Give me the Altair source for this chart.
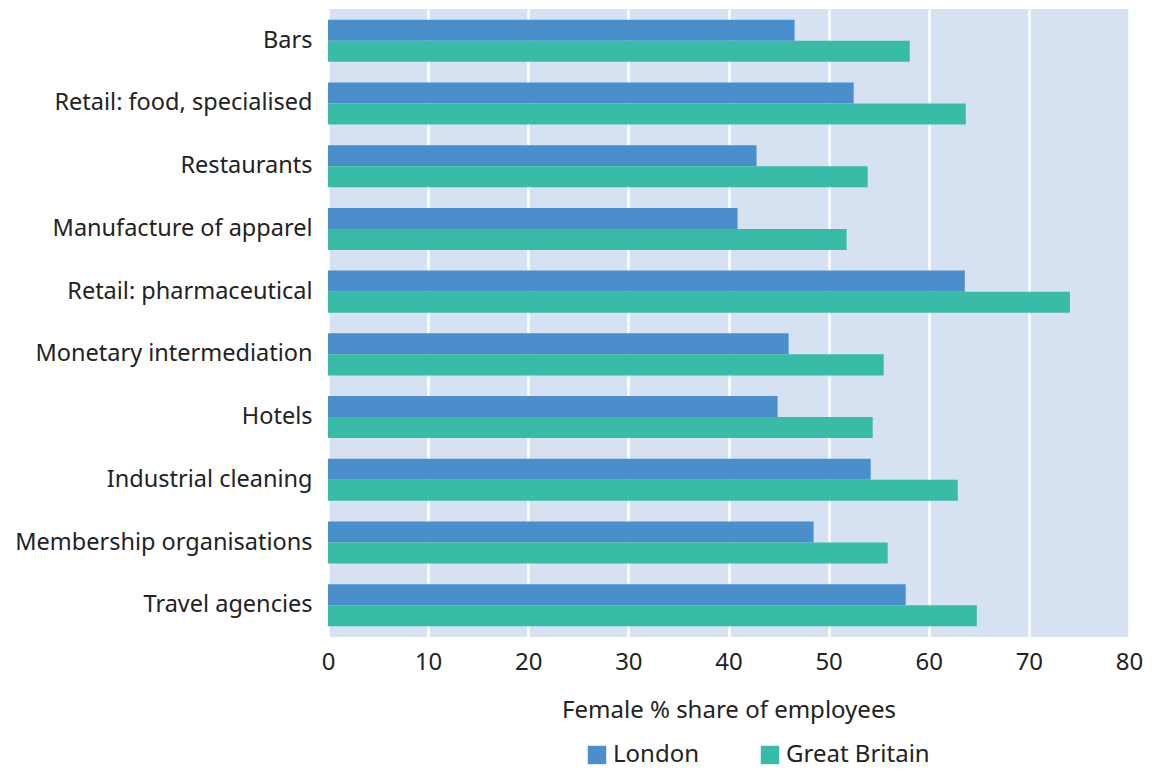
import altair as alt
import pandas as pd

categories = [
    "Bars",
    "Retail: food, specialised",
    "Restaurants",
    "Manufacture of apparel",
    "Retail: pharmaceutical",
    "Monetary intermediation",
    "Hotels",
    "Industrial cleaning",
    "Membership organisations",
    "Travel agencies",
]
london = [46.6, 52.5, 42.8, 40.9, 63.6, 46.0, 44.9, 54.2, 48.5, 57.7]
great_britain = [58.1, 63.7, 53.9, 51.8, 74.1, 55.5, 54.4, 62.9, 55.9, 64.8]
series = ["London", "Great Britain"]
colors = ["#4A8ECC", "#38BBA7"]

rows = []
for c, l, g in zip(categories, london, great_britain):
    rows.append({"category": c, "series": "London", "value": l})
    rows.append({"category": c, "series": "Great Britain", "value": g})
df = pd.DataFrame(rows)

FONT = "Noto Sans"

chart = (
    alt.Chart(df)
    .mark_bar()
    .encode(
        y=alt.Y(
            "category:N",
            sort=categories,
            title=None,
            scale=alt.Scale(paddingInner=0.33, paddingOuter=0.17),
            axis=alt.Axis(
                labelFontSize=23.5,
                labelColor="#222222",
                labelFont=FONT,
                labelPadding=16,
                ticks=False,
                domain=False,
                grid=False,
                labelLimit=400,
            ),
        ),
        yOffset=alt.YOffset("series:N", sort=series),
        x=alt.X(
            "value:Q",
            scale=alt.Scale(domain=[0, 80], nice=False),
            title="Female % share of employees",
            axis=alt.Axis(
                values=[0, 10, 20, 30, 40, 50, 60, 70, 80],
                labelFontSize=24,
                labelColor="#222222",
                labelFont=FONT,
                labelPadding=13,
                labelFlush=False,
                ticks=False,
                domain=False,
                grid=True,
                gridColor="white",
                gridWidth=2.5,
                titleFontSize=24,
                titleFont=FONT,
                titleFontWeight="normal",
                titleColor="#222222",
                titlePadding=24,
            ),
        ),
        color=alt.Color(
            "series:N",
            sort=series,
            scale=alt.Scale(domain=series, range=colors),
            legend=alt.Legend(
                title=None,
                orient="none",
                direction="horizontal",
                legendX=257,
                legendY=734,
                symbolType="square",
                symbolSize=340,
                symbolStrokeWidth=0,
                labelFontSize=24,
                labelFont=FONT,
                labelColor="#222222",
                columnPadding=58,
                symbolOffset=0,
            ),
        ),
    )
    .properties(
        width=801,
        height=628,
        autosize=alt.AutoSizeParams(type="none"),
        padding={"left": 320, "top": 1, "right": 16, "bottom": 131},
    )
    .configure_view(fill="#D6E2F2", stroke=None)
)

chart.save("out.html", embed_options={"renderer": "svg", "actions": False})
